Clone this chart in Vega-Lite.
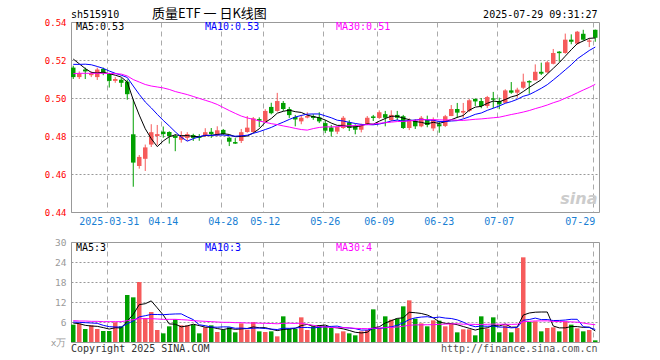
{
"$schema":"https://vega.github.io/schema/vega-lite/v6.json",
"background":"#ffffff",
"padding":{"left":43,"top":7,"right":60,"bottom":5},
"bounds":"flush",
"spacing":30,
"config":{"view":{"stroke":"#999999","strokeWidth":1},"axis":{"labelFont":"DejaVu Sans Mono","labelOverlap":false}},
"datasets":{"k":[
{"d":"2025-03-21","o":0.516,"h":0.517,"l":0.510,"c":0.511,"v":5.2,"m5":0.5205,"m10":0.5177,"m30":0.5128,"vm5":5.7,"vm10":6.0,"vm30":6.4},
{"d":"2025-03-24","o":0.511,"h":0.514,"l":0.510,"c":0.513,"v":5.5,"m5":0.518,"m10":0.5177,"m30":0.513,"vm5":5.5,"vm10":5.9,"vm30":6.3},
{"d":"2025-03-25","o":0.515,"h":0.516,"l":0.510,"c":0.514,"v":3.9,"m5":0.5155,"m10":0.5178,"m30":0.513,"vm5":5.0,"vm10":5.8,"vm30":6.3},
{"d":"2025-03-26","o":0.512,"h":0.514,"l":0.511,"c":0.513,"v":5.0,"m5":0.5135,"m10":0.5175,"m30":0.513,"vm5":4.8,"vm10":5.7,"vm30":6.2},
{"d":"2025-03-27","o":0.511,"h":0.516,"l":0.5095,"c":0.515,"v":3.9,"m5":0.5132,"m10":0.5166,"m30":0.513,"vm5":4.7,"vm10":5.6,"vm30":6.2},
{"d":"2025-03-28","o":0.5153,"h":0.516,"l":0.512,"c":0.513,"v":3.3,"m5":0.5136,"m10":0.5156,"m30":0.513,"vm5":4.32,"vm10":5.0,"vm30":6.1},
{"d":"2025-03-31","o":0.5127,"h":0.5132,"l":0.5055,"c":0.509,"v":3.3,"m5":0.5128,"m10":0.5142,"m30":0.5129,"vm5":3.88,"vm10":4.6,"vm30":6.1},
{"d":"2025-04-01","o":0.509,"h":0.511,"l":0.508,"c":0.510,"v":5.9,"m5":0.512,"m10":0.513,"m30":0.5128,"vm5":4.28,"vm10":4.5,"vm30":6.1},
{"d":"2025-04-02","o":0.5096,"h":0.5105,"l":0.5058,"c":0.508,"v":4.7,"m5":0.511,"m10":0.512,"m30":0.5126,"vm5":4.22,"vm10":4.5,"vm30":6.1},
{"d":"2025-04-03","o":0.5086,"h":0.5097,"l":0.4991,"c":0.502,"v":14.1,"m5":0.5084,"m10":0.5108,"m30":0.5116,"vm5":6.26,"vm10":5.48,"vm30":6.4},
{"d":"2025-04-07","o":0.4809,"h":0.4993,"l":0.4533,"c":0.466,"v":13.4,"m5":0.499,"m10":0.5063,"m30":0.5097,"vm5":8.28,"vm10":6.3,"vm30":6.7},
{"d":"2025-04-08","o":0.4642,"h":0.470,"l":0.4628,"c":0.469,"v":18.0,"m5":0.491,"m10":0.5019,"m30":0.5084,"vm5":11.22,"vm10":7.55,"vm30":7.0},
{"d":"2025-04-09","o":0.468,"h":0.4755,"l":0.4616,"c":0.474,"v":7.2,"m5":0.4838,"m10":0.4979,"m30":0.5071,"vm5":11.48,"vm10":7.88,"vm30":7.0},
{"d":"2025-04-10","o":0.4755,"h":0.4862,"l":0.4742,"c":0.482,"v":9.0,"m5":0.4786,"m10":0.4948,"m30":0.5063,"vm5":12.34,"vm10":8.28,"vm30":7.0},
{"d":"2025-04-11","o":0.480,"h":0.4858,"l":0.4753,"c":0.481,"v":3.6,"m5":0.4744,"m10":0.4914,"m30":0.5058,"vm5":10.24,"vm10":8.25,"vm30":6.9},
{"d":"2025-04-14","o":0.4823,"h":0.485,"l":0.4791,"c":0.481,"v":2.6,"m5":0.4774,"m10":0.4882,"m30":0.5053,"vm5":8.08,"vm10":8.18,"vm30":6.8},
{"d":"2025-04-15","o":0.4821,"h":0.4825,"l":0.476,"c":0.480,"v":4.7,"m5":0.4796,"m10":0.4853,"m30":0.5045,"vm5":5.42,"vm10":8.32,"vm30":6.8},
{"d":"2025-04-16","o":0.480,"h":0.481,"l":0.472,"c":0.479,"v":6.8,"m5":0.4806,"m10":0.4822,"m30":0.5034,"vm5":5.34,"vm10":8.41,"vm30":6.8},
{"d":"2025-04-17","o":0.478,"h":0.4825,"l":0.4765,"c":0.480,"v":5.0,"m5":0.4802,"m10":0.4794,"m30":0.5026,"vm5":4.54,"vm10":8.44,"vm30":6.7},
{"d":"2025-04-18","o":0.479,"h":0.482,"l":0.4775,"c":0.481,"v":5.0,"m5":0.4802,"m10":0.4773,"m30":0.5018,"vm5":4.82,"vm10":7.53,"vm30":6.6},
{"d":"2025-04-21","o":0.4805,"h":0.4812,"l":0.4774,"c":0.479,"v":5.2,"m5":0.4798,"m10":0.4786,"m30":0.5008,"vm5":5.34,"vm10":6.71,"vm30":6.4},
{"d":"2025-04-22","o":0.480,"h":0.481,"l":0.4775,"c":0.479,"v":2.6,"m5":0.4796,"m10":0.4796,"m30":0.4998,"vm5":4.92,"vm10":5.17,"vm30":6.3},
{"d":"2025-04-23","o":0.480,"h":0.4841,"l":0.4795,"c":0.482,"v":4.4,"m5":0.4802,"m10":0.4804,"m30":0.4988,"vm5":4.44,"vm10":4.89,"vm30":6.2},
{"d":"2025-04-24","o":0.4822,"h":0.4842,"l":0.479,"c":0.481,"v":5.0,"m5":0.4804,"m10":0.4803,"m30":0.4978,"vm5":4.44,"vm10":4.49,"vm30":6.1},
{"d":"2025-04-25","o":0.4804,"h":0.4851,"l":0.480,"c":0.483,"v":3.0,"m5":0.4808,"m10":0.4805,"m30":0.4966,"vm5":4.04,"vm10":4.43,"vm30":6.0},
{"d":"2025-04-28","o":0.4832,"h":0.4837,"l":0.4805,"c":0.481,"v":3.7,"m5":0.4812,"m10":0.4805,"m30":0.495,"vm5":3.74,"vm10":4.54,"vm30":5.9},
{"d":"2025-04-29","o":0.4791,"h":0.4795,"l":0.4747,"c":0.477,"v":4.4,"m5":0.4808,"m10":0.4802,"m30":0.4934,"vm5":4.1,"vm10":4.51,"vm30":5.9},
{"d":"2025-04-30","o":0.4768,"h":0.4789,"l":0.4758,"c":0.476,"v":2.9,"m5":0.4796,"m10":0.4799,"m30":0.4919,"vm5":3.8,"vm10":4.12,"vm30":5.8},
{"d":"2025-05-06","o":0.4774,"h":0.4837,"l":0.4763,"c":0.482,"v":5.6,"m5":0.4798,"m10":0.4801,"m30":0.4905,"vm5":3.92,"vm10":4.18,"vm30":5.8},
{"d":"2025-05-07","o":0.4821,"h":0.4905,"l":0.4817,"c":0.4844,"v":3.7,"m5":0.480,"m10":0.4804,"m30":0.4895,"vm5":4.06,"vm10":4.05,"vm30":5.69},
{"d":"2025-05-08","o":0.4821,"h":0.490,"l":0.4817,"c":0.4893,"v":6.0,"m5":0.4816,"m10":0.4814,"m30":0.4888,"vm5":4.52,"vm10":4.13,"vm30":5.71},
{"d":"2025-05-09","o":0.4889,"h":0.4898,"l":0.4847,"c":0.488,"v":3.2,"m5":0.4838,"m10":0.4823,"m30":0.4879,"vm5":4.28,"vm10":4.19,"vm30":5.64},
{"d":"2025-05-12","o":0.4876,"h":0.4941,"l":0.487,"c":0.4932,"v":3.0,"m5":0.4872,"m10":0.4834,"m30":0.4872,"vm5":4.3,"vm10":4.05,"vm30":5.61},
{"d":"2025-05-13","o":0.4953,"h":0.4975,"l":0.4914,"c":0.492,"v":3.2,"m5":0.4892,"m10":0.4845,"m30":0.4865,"vm5":3.82,"vm10":3.87,"vm30":5.55},
{"d":"2025-05-14","o":0.4932,"h":0.5027,"l":0.4928,"c":0.4984,"v":1.7,"m5":0.492,"m10":0.486,"m30":0.486,"vm5":3.42,"vm10":3.74,"vm30":5.47},
{"d":"2025-05-15","o":0.4974,"h":0.4984,"l":0.4932,"c":0.4942,"v":7.7,"m5":0.493,"m10":0.4873,"m30":0.4853,"vm5":3.76,"vm10":4.14,"vm30":5.62},
{"d":"2025-05-16","o":0.4942,"h":0.4953,"l":0.4895,"c":0.491,"v":3.9,"m5":0.4936,"m10":0.4887,"m30":0.4847,"vm5":3.9,"vm10":4.09,"vm30":5.64},
{"d":"2025-05-19","o":0.490,"h":0.4911,"l":0.4851,"c":0.4887,"v":3.9,"m5":0.4928,"m10":0.490,"m30":0.484,"vm5":4.08,"vm10":4.19,"vm30":5.57},
{"d":"2025-05-20","o":0.4877,"h":0.4911,"l":0.4862,"c":0.4896,"v":7.4,"m5":0.4924,"m10":0.4908,"m30":0.4834,"vm5":4.92,"vm10":4.37,"vm30":5.66},
{"d":"2025-05-21","o":0.4897,"h":0.4925,"l":0.4893,"c":0.4905,"v":3.6,"m5":0.491,"m10":0.4915,"m30":0.4831,"vm5":5.3,"vm10":4.36,"vm30":5.31},
{"d":"2025-05-22","o":0.4905,"h":0.4915,"l":0.4885,"c":0.4895,"v":4.7,"m5":0.4902,"m10":0.4916,"m30":0.4839,"vm5":4.7,"vm10":4.23,"vm30":5.02},
{"d":"2025-05-23","o":0.4898,"h":0.4925,"l":0.4868,"c":0.4877,"v":5.0,"m5":0.4896,"m10":0.4916,"m30":0.4845,"vm5":4.92,"vm10":4.41,"vm30":4.59},
{"d":"2025-05-26","o":0.4868,"h":0.4884,"l":0.4815,"c":0.4828,"v":4.7,"m5":0.4884,"m10":0.4906,"m30":0.4848,"vm5":5.08,"vm10":4.58,"vm30":4.51},
{"d":"2025-05-27","o":0.4845,"h":0.4858,"l":0.4797,"c":0.4823,"v":4.2,"m5":0.4868,"m10":0.4896,"m30":0.4848,"vm5":4.44,"vm10":4.68,"vm30":4.35},
{"d":"2025-05-28","o":0.4823,"h":0.4848,"l":0.481,"c":0.4847,"v":2.6,"m5":0.4856,"m10":0.4883,"m30":0.4849,"vm5":4.24,"vm10":4.77,"vm30":4.31},
{"d":"2025-05-29","o":0.4842,"h":0.4905,"l":0.4837,"c":0.4896,"v":3.2,"m5":0.4856,"m10":0.4879,"m30":0.4852,"vm5":3.94,"vm10":4.32,"vm30":4.33},
{"d":"2025-05-30","o":0.4872,"h":0.4883,"l":0.4826,"c":0.4842,"v":2.6,"m5":0.4848,"m10":0.4872,"m30":0.4854,"vm5":3.46,"vm10":4.19,"vm30":4.26},
{"d":"2025-06-03","o":0.4851,"h":0.4862,"l":0.4809,"c":0.4833,"v":2.0,"m5":0.4848,"m10":0.4866,"m30":0.4855,"vm5":2.92,"vm10":4.0,"vm30":4.1},
{"d":"2025-06-04","o":0.4833,"h":0.4865,"l":0.4819,"c":0.4854,"v":3.2,"m5":0.4854,"m10":0.4861,"m30":0.4857,"vm5":2.72,"vm10":3.58,"vm30":4.04},
{"d":"2025-06-05","o":0.4863,"h":0.4905,"l":0.4858,"c":0.4896,"v":3.6,"m5":0.4864,"m10":0.486,"m30":0.486,"vm5":2.92,"vm10":3.58,"vm30":4.0},
{"d":"2025-06-06","o":0.4903,"h":0.4911,"l":0.4879,"c":0.4895,"v":9.8,"m5":0.4862,"m10":0.4859,"m30":0.4863,"vm5":4.24,"vm10":4.09,"vm30":4.15},
{"d":"2025-06-09","o":0.4895,"h":0.4935,"l":0.489,"c":0.4925,"v":4.2,"m5":0.4878,"m10":0.4863,"m30":0.4867,"vm5":4.56,"vm10":4.01,"vm30":4.2},
{"d":"2025-06-10","o":0.4915,"h":0.4932,"l":0.4851,"c":0.4896,"v":7.7,"m5":0.4892,"m10":0.487,"m30":0.487,"vm5":5.7,"vm10":4.31,"vm30":4.31},
{"d":"2025-06-11","o":0.4883,"h":0.4935,"l":0.4879,"c":0.4911,"v":6.7,"m5":0.4904,"m10":0.4879,"m30":0.4873,"vm5":6.4,"vm10":4.56,"vm30":4.37},
{"d":"2025-06-12","o":0.4911,"h":0.4932,"l":0.4883,"c":0.4896,"v":7.0,"m5":0.4904,"m10":0.4884,"m30":0.4876,"vm5":7.08,"vm10":5.0,"vm30":4.5},
{"d":"2025-06-13","o":0.4904,"h":0.4911,"l":0.4837,"c":0.4842,"v":10.7,"m5":0.4894,"m10":0.4878,"m30":0.4877,"vm5":7.26,"vm10":5.75,"vm30":4.74},
{"d":"2025-06-16","o":0.4842,"h":0.4893,"l":0.4831,"c":0.4883,"v":12.5,"m5":0.4886,"m10":0.4882,"m30":0.488,"vm5":8.92,"vm10":6.74,"vm30":5.01},
{"d":"2025-06-17","o":0.4879,"h":0.4888,"l":0.4837,"c":0.4851,"v":7.0,"m5":0.4876,"m10":0.4884,"m30":0.4883,"vm5":8.78,"vm10":7.24,"vm30":5.14},
{"d":"2025-06-18","o":0.4851,"h":0.4905,"l":0.4846,"c":0.4896,"v":5.6,"m5":0.4872,"m10":0.4888,"m30":0.4886,"vm5":8.56,"vm10":7.48,"vm30":5.14},
{"d":"2025-06-19","o":0.4886,"h":0.4907,"l":0.4846,"c":0.4858,"v":4.7,"m5":0.4864,"m10":0.4884,"m30":0.4886,"vm5":8.1,"vm10":7.59,"vm30":5.18},
{"d":"2025-06-20","o":0.484,"h":0.4898,"l":0.4826,"c":0.4886,"v":6.5,"m5":0.4872,"m10":0.4883,"m30":0.4886,"vm5":7.26,"vm10":7.26,"vm30":5.19},
{"d":"2025-06-23","o":0.4862,"h":0.4879,"l":0.4817,"c":0.4851,"v":6.4,"m5":0.4866,"m10":0.4876,"m30":0.4885,"vm5":6.04,"vm10":7.48,"vm30":5.3},
{"d":"2025-06-24","o":0.4853,"h":0.4911,"l":0.4847,"c":0.4904,"v":4.7,"m5":0.4876,"m10":0.4876,"m30":0.4884,"vm5":5.58,"vm10":7.18,"vm30":5.36},
{"d":"2025-06-25","o":0.4905,"h":0.4963,"l":0.4905,"c":0.4942,"v":5.4,"m5":0.4886,"m10":0.4879,"m30":0.4885,"vm5":5.54,"vm10":7.05,"vm30":5.43},
{"d":"2025-06-26","o":0.4942,"h":0.4974,"l":0.4895,"c":0.4923,"v":2.9,"m5":0.4898,"m10":0.4881,"m30":0.4883,"vm5":5.18,"vm10":6.64,"vm30":5.47},
{"d":"2025-06-27","o":0.4923,"h":0.4974,"l":0.4895,"c":0.4932,"v":3.8,"m5":0.4908,"m10":0.489,"m30":0.4882,"vm5":4.64,"vm10":5.95,"vm30":5.34},
{"d":"2025-06-30","o":0.4932,"h":0.4994,"l":0.4926,"c":0.4988,"v":3.8,"m5":0.4936,"m10":0.4901,"m30":0.4885,"vm5":4.12,"vm10":5.08,"vm30":5.34},
{"d":"2025-07-01","o":0.4995,"h":0.4998,"l":0.4958,"c":0.4982,"v":2.0,"m5":0.4952,"m10":0.4914,"m30":0.4888,"vm5":3.58,"vm10":4.58,"vm30":5.27},
{"d":"2025-07-02","o":0.4984,"h":0.500,"l":0.4946,"c":0.4958,"v":7.7,"m5":0.4956,"m10":0.4921,"m30":0.489,"vm5":4.04,"vm10":4.79,"vm30":5.28},
{"d":"2025-07-03","o":0.4958,"h":0.5011,"l":0.4947,"c":0.5005,"v":4.0,"m5":0.4972,"m10":0.4935,"m30":0.4893,"vm5":4.26,"vm10":4.72,"vm30":5.3},
{"d":"2025-07-04","o":0.4998,"h":0.5032,"l":0.4947,"c":0.4991,"v":7.4,"m5":0.4984,"m10":0.4946,"m30":0.4896,"vm5":4.98,"vm10":4.81,"vm30":5.39},
{"d":"2025-07-07","o":0.4984,"h":0.5002,"l":0.4941,"c":0.4967,"v":2.9,"m5":0.498,"m10":0.4958,"m30":0.4899,"vm5":4.8,"vm10":4.46,"vm30":5.32},
{"d":"2025-07-08","o":0.4975,"h":0.5046,"l":0.4975,"c":0.504,"v":5.0,"m5":0.4992,"m10":0.4972,"m30":0.4906,"vm5":5.4,"vm10":4.49,"vm30":5.33},
{"d":"2025-07-09","o":0.504,"h":0.5084,"l":0.5022,"c":0.5028,"v":2.9,"m5":0.5006,"m10":0.4981,"m30":0.4913,"vm5":4.44,"vm10":4.24,"vm30":5.28},
{"d":"2025-07-10","o":0.5028,"h":0.5054,"l":0.5001,"c":0.5044,"v":4.2,"m5":0.5014,"m10":0.4993,"m30":0.4919,"vm5":4.48,"vm10":4.37,"vm30":5.34},
{"d":"2025-07-11","o":0.5054,"h":0.5128,"l":0.5047,"c":0.5086,"v":25.4,"m5":0.5034,"m10":0.5009,"m30":0.4926,"vm5":8.08,"vm10":6.53,"vm30":6.08},
{"d":"2025-07-14","o":0.5089,"h":0.5093,"l":0.5022,"c":0.5082,"v":6.0,"m5":0.5056,"m10":0.5018,"m30":0.4934,"vm5":8.7,"vm10":6.75,"vm30":6.19},
{"d":"2025-07-15","o":0.5093,"h":0.5177,"l":0.5093,"c":0.5138,"v":6.2,"m5":0.5076,"m10":0.5034,"m30":0.4944,"vm5":8.94,"vm10":7.17,"vm30":6.33},
{"d":"2025-07-16","o":0.5138,"h":0.5186,"l":0.5121,"c":0.5128,"v":3.2,"m5":0.5096,"m10":0.5051,"m30":0.4953,"vm5":9.0,"vm10":6.72,"vm30":6.33},
{"d":"2025-07-17","o":0.5135,"h":0.5195,"l":0.513,"c":0.5188,"v":4.2,"m5":0.5126,"m10":0.507,"m30":0.4963,"vm5":9.0,"vm10":6.74,"vm30":6.35},
{"d":"2025-07-18","o":0.518,"h":0.5258,"l":0.5177,"c":0.5237,"v":4.4,"m5":0.5156,"m10":0.5095,"m30":0.4975,"vm5":4.8,"vm10":6.44,"vm30":6.17},
{"d":"2025-07-21","o":0.5244,"h":0.5247,"l":0.5191,"c":0.5236,"v":3.2,"m5":0.5186,"m10":0.5121,"m30":0.4985,"vm5":4.24,"vm10":6.47,"vm30":6.14},
{"d":"2025-07-22","o":0.5237,"h":0.5339,"l":0.5233,"c":0.5307,"v":6.2,"m5":0.522,"m10":0.5148,"m30":0.4999,"vm5":4.24,"vm10":6.59,"vm30":6.09},
{"d":"2025-07-23","o":0.5307,"h":0.5335,"l":0.5283,"c":0.5296,"v":5.2,"m5":0.5254,"m10":0.5175,"m30":0.5012,"vm5":4.64,"vm10":6.82,"vm30":6.04},
{"d":"2025-07-24","o":0.5286,"h":0.5353,"l":0.5281,"c":0.5349,"v":4.1,"m5":0.5286,"m10":0.5206,"m30":0.5027,"vm5":4.62,"vm10":6.81,"vm30":5.94},
{"d":"2025-07-25","o":0.5338,"h":0.5359,"l":0.5302,"c":0.5307,"v":3.2,"m5":0.530,"m10":0.5228,"m30":0.5042,"vm5":4.38,"vm10":4.59,"vm30":5.69},
{"d":"2025-07-28","o":0.5296,"h":0.5314,"l":0.5268,"c":0.5303,"v":3.6,"m5":0.5314,"m10":0.525,"m30":0.5056,"vm5":4.46,"vm10":4.35,"vm30":5.39},
{"d":"2025-07-29","o":0.5359,"h":0.536,"l":0.5296,"c":0.5317,"v":0.5,"m5":0.5316,"m10":0.5268,"m30":0.5072,"vm5":3.32,"vm10":3.78,"vm30":5.18}
]},
"vconcat":[
{
"width":528,"height":190,
"data":{"name":"k"},
"layer":[
{"mark":{"type":"rule","strokeWidth":1},
 "encoding":{
  "x":{"field":"d","type":"ordinal","title":null,
   "scale":{"type":"band","paddingInner":0.25,"paddingOuter":0.125,"align":0},
   "axis":{"values":["2025-03-31","2025-04-14","2025-04-28","2025-05-12","2025-05-26","2025-06-09","2025-06-23","2025-07-07","2025-07-29"],
     "labelExpr":"datum.value == '2025-03-31' ? datum.value : substring(datum.value, 5, 10)",
     "bandPosition":0,"grid":true,"gridDash":[5,4],"gridColor":"#aaaaaa","gridWidth":1,
     "ticks":false,"tickSize":0,"domain":false,"labelAngle":0,"labelPadding":4,"labelOverlap":false,
     "labelColor":"#1a7fd4","labelFontSize":10,"labelFlush":8}},
  "y":{"field":"l","type":"quantitative","title":null,
   "scale":{"domain":[0.44,0.54],"nice":false,"zero":false},
   "axis":{"values":[0.44,0.46,0.48,0.5,0.52,0.54],"tickCount":20,"format":".2f","labelColor":"#ff0000","labelFontSize":9,"labelOverlap":false,
     "grid":true,"gridDash":[2,2],"gridColor":"#999999","ticks":false,"tickSize":0,"domain":false,"labelPadding":5}},
  "y2":{"field":"h"},
  "color":{"condition":{"test":"datum.c >= datum.o","value":"#f65b5b"},"value":"#00a000"}}},
{"mark":{"type":"bar"},
 "encoding":{
  "x":{"field":"d","type":"ordinal","title":null},
  "y":{"field":"o","type":"quantitative","title":null},
  "y2":{"field":"c"},
  "color":{"condition":{"test":"datum.c >= datum.o","value":"#f65b5b"},"value":"#00a000"}}},
{"mark":{"type":"line","strokeWidth":1,"color":"#000000"},
 "encoding":{"x":{"field":"d","type":"ordinal","title":null},"y":{"field":"m5","type":"quantitative","title":null}}},
{"mark":{"type":"line","strokeWidth":1,"color":"#0000ff"},
 "encoding":{"x":{"field":"d","type":"ordinal","title":null},"y":{"field":"m10","type":"quantitative","title":null}}},
{"mark":{"type":"line","strokeWidth":1,"color":"#ff00ff"},
 "encoding":{"x":{"field":"d","type":"ordinal","title":null},"y":{"field":"m30","type":"quantitative","title":null}}},
{"data":{"values":[{"d":"2025-03-21","p":0.54,"t":"sh515910"}]},
 "mark":{"type":"text","align":"left","baseline":"alphabetic","dy":-4,"font":"DejaVu Sans Mono","fontSize":10,"color":"#000000"},
 "encoding":{"x":{"field":"d","type":"ordinal","bandPosition":0,"title":null},"y":{"field":"p","type":"quantitative","title":null},"text":{"field":"t"}}},
{"data":{"values":[{"d":"2025-04-10","p":0.54,"t":"质量ETF 一 日K线图"}]},
 "mark":{"type":"text","align":"left","baseline":"alphabetic","dx":3,"dy":-4,"font":"Noto Sans CJK SC","fontSize":13,"color":"#000000"},
 "encoding":{"x":{"field":"d","type":"ordinal","bandPosition":0,"title":null},"y":{"field":"p","type":"quantitative","title":null},"text":{"field":"t"}}},
{"data":{"values":[{"d":"2025-07-29","p":0.54,"t":"2025-07-29 09:31:27"}]},
 "mark":{"type":"text","align":"right","baseline":"alphabetic","dy":-4,"font":"DejaVu Sans Mono","fontSize":10,"color":"#000000"},
 "encoding":{"x":{"field":"d","type":"ordinal","bandPosition":1,"title":null},"y":{"field":"p","type":"quantitative","title":null},"text":{"field":"t"}}},
{"data":{"values":[{"d":"2025-03-21","p":0.54,"t":"MA5:0.53"}]},
 "mark":{"type":"text","align":"left","baseline":"alphabetic","dx":5,"dy":8,"font":"DejaVu Sans Mono","fontSize":10,"color":"#000000"},
 "encoding":{"x":{"field":"d","type":"ordinal","bandPosition":0,"title":null},"y":{"field":"p","type":"quantitative","title":null},"text":{"field":"t"}}},
{"data":{"values":[{"d":"2025-04-23","p":0.54,"t":"MA10:0.53"}]},
 "mark":{"type":"text","align":"left","baseline":"alphabetic","dx":2,"dy":8,"font":"DejaVu Sans Mono","fontSize":10,"color":"#0000ff"},
 "encoding":{"x":{"field":"d","type":"ordinal","bandPosition":0,"title":null},"y":{"field":"p","type":"quantitative","title":null},"text":{"field":"t"}}},
{"data":{"values":[{"d":"2025-05-28","p":0.54,"t":"MA30:0.51"}]},
 "mark":{"type":"text","align":"left","baseline":"alphabetic","dx":1,"dy":8,"font":"DejaVu Sans Mono","fontSize":10,"color":"#ff00ff"},
 "encoding":{"x":{"field":"d","type":"ordinal","bandPosition":0,"title":null},"y":{"field":"p","type":"quantitative","title":null},"text":{"field":"t"}}},
{"data":{"values":[{"d":"2025-07-29","p":0.4442,"t":"sina"}]},
 "mark":{"type":"text","align":"right","baseline":"alphabetic","font":"DejaVu Sans","fontSize":16,"fontStyle":"italic","fontWeight":"bold","color":"#cccccc"},
 "encoding":{"x":{"field":"d","type":"ordinal","bandPosition":1,"title":null},"y":{"field":"p","type":"quantitative","title":null},"text":{"field":"t"}}}
]
},
{
"width":528,"height":100,
"data":{"name":"k"},
"layer":[
{"mark":{"type":"bar"},
 "encoding":{
  "x":{"field":"d","type":"ordinal","title":null,
   "scale":{"type":"band","paddingInner":0.25,"paddingOuter":0.125,"align":0},
   "axis":{"values":["2025-03-31","2025-04-14","2025-04-28","2025-05-12","2025-05-26","2025-06-09","2025-06-23","2025-07-07","2025-07-29"],
     "labels":false,"bandPosition":0,"grid":true,"gridDash":[5,4],"gridColor":"#aaaaaa","gridWidth":1,
     "ticks":false,"tickSize":0,"domain":false}},
  "y":{"field":"v","type":"quantitative","title":null,
   "scale":{"domain":[0,30],"nice":false,"zero":true},
   "axis":{"values":[0,6,12,18,24,30],"tickCount":20,"labelExpr":"datum.value == 0 ? 'x万' : datum.label","labelColor":"#999999","labelFontSize":9.5,"labelOverlap":false,
     "grid":true,"gridDash":[2,2],"gridColor":"#999999","ticks":false,"tickSize":0,"domain":false,"labelPadding":5}},
  "color":{"condition":{"test":"datum.c >= datum.o","value":"#f65b5b"},"value":"#00a000"}}},
{"mark":{"type":"line","strokeWidth":1,"color":"#000000"},
 "encoding":{"x":{"field":"d","type":"ordinal","title":null},"y":{"field":"vm5","type":"quantitative","title":null}}},
{"mark":{"type":"line","strokeWidth":1,"color":"#0000ff"},
 "encoding":{"x":{"field":"d","type":"ordinal","title":null},"y":{"field":"vm10","type":"quantitative","title":null}}},
{"mark":{"type":"line","strokeWidth":1,"color":"#ff00ff"},
 "encoding":{"x":{"field":"d","type":"ordinal","title":null},"y":{"field":"vm30","type":"quantitative","title":null}}},
{"data":{"values":[{"d":"2025-03-21","p":30,"t":"MA5:3"}]},
 "mark":{"type":"text","align":"left","baseline":"alphabetic","dx":5,"dy":8.5,"font":"DejaVu Sans Mono","fontSize":10,"color":"#000000"},
 "encoding":{"x":{"field":"d","type":"ordinal","bandPosition":0,"title":null},"y":{"field":"p","type":"quantitative","title":null},"text":{"field":"t"}}},
{"data":{"values":[{"d":"2025-04-23","p":30,"t":"MA10:3"}]},
 "mark":{"type":"text","align":"left","baseline":"alphabetic","dx":2,"dy":8.5,"font":"DejaVu Sans Mono","fontSize":10,"color":"#0000ff"},
 "encoding":{"x":{"field":"d","type":"ordinal","bandPosition":0,"title":null},"y":{"field":"p","type":"quantitative","title":null},"text":{"field":"t"}}},
{"data":{"values":[{"d":"2025-05-28","p":30,"t":"MA30:4"}]},
 "mark":{"type":"text","align":"left","baseline":"alphabetic","dx":1,"dy":8.5,"font":"DejaVu Sans Mono","fontSize":10,"color":"#ff00ff"},
 "encoding":{"x":{"field":"d","type":"ordinal","bandPosition":0,"title":null},"y":{"field":"p","type":"quantitative","title":null},"text":{"field":"t"}}},
{"data":{"values":[{"d":"2025-03-21","p":0,"t":"Copyright 2025 SINA.COM"}]},
 "mark":{"type":"text","align":"left","baseline":"alphabetic","dy":9.5,"font":"DejaVu Sans Mono","fontSize":10,"color":"#333333"},
 "encoding":{"x":{"field":"d","type":"ordinal","bandPosition":0,"title":null},"y":{"field":"p","type":"quantitative","title":null},"text":{"field":"t"}}},
{"data":{"values":[{"d":"2025-07-29","p":0,"t":"http://finance.sina.com.cn"}]},
 "mark":{"type":"text","align":"right","baseline":"alphabetic","dy":9.5,"font":"DejaVu Sans Mono","fontSize":10,"color":"#555555"},
 "encoding":{"x":{"field":"d","type":"ordinal","bandPosition":1,"title":null},"y":{"field":"p","type":"quantitative","title":null},"text":{"field":"t"}}}
]
}
]
}
